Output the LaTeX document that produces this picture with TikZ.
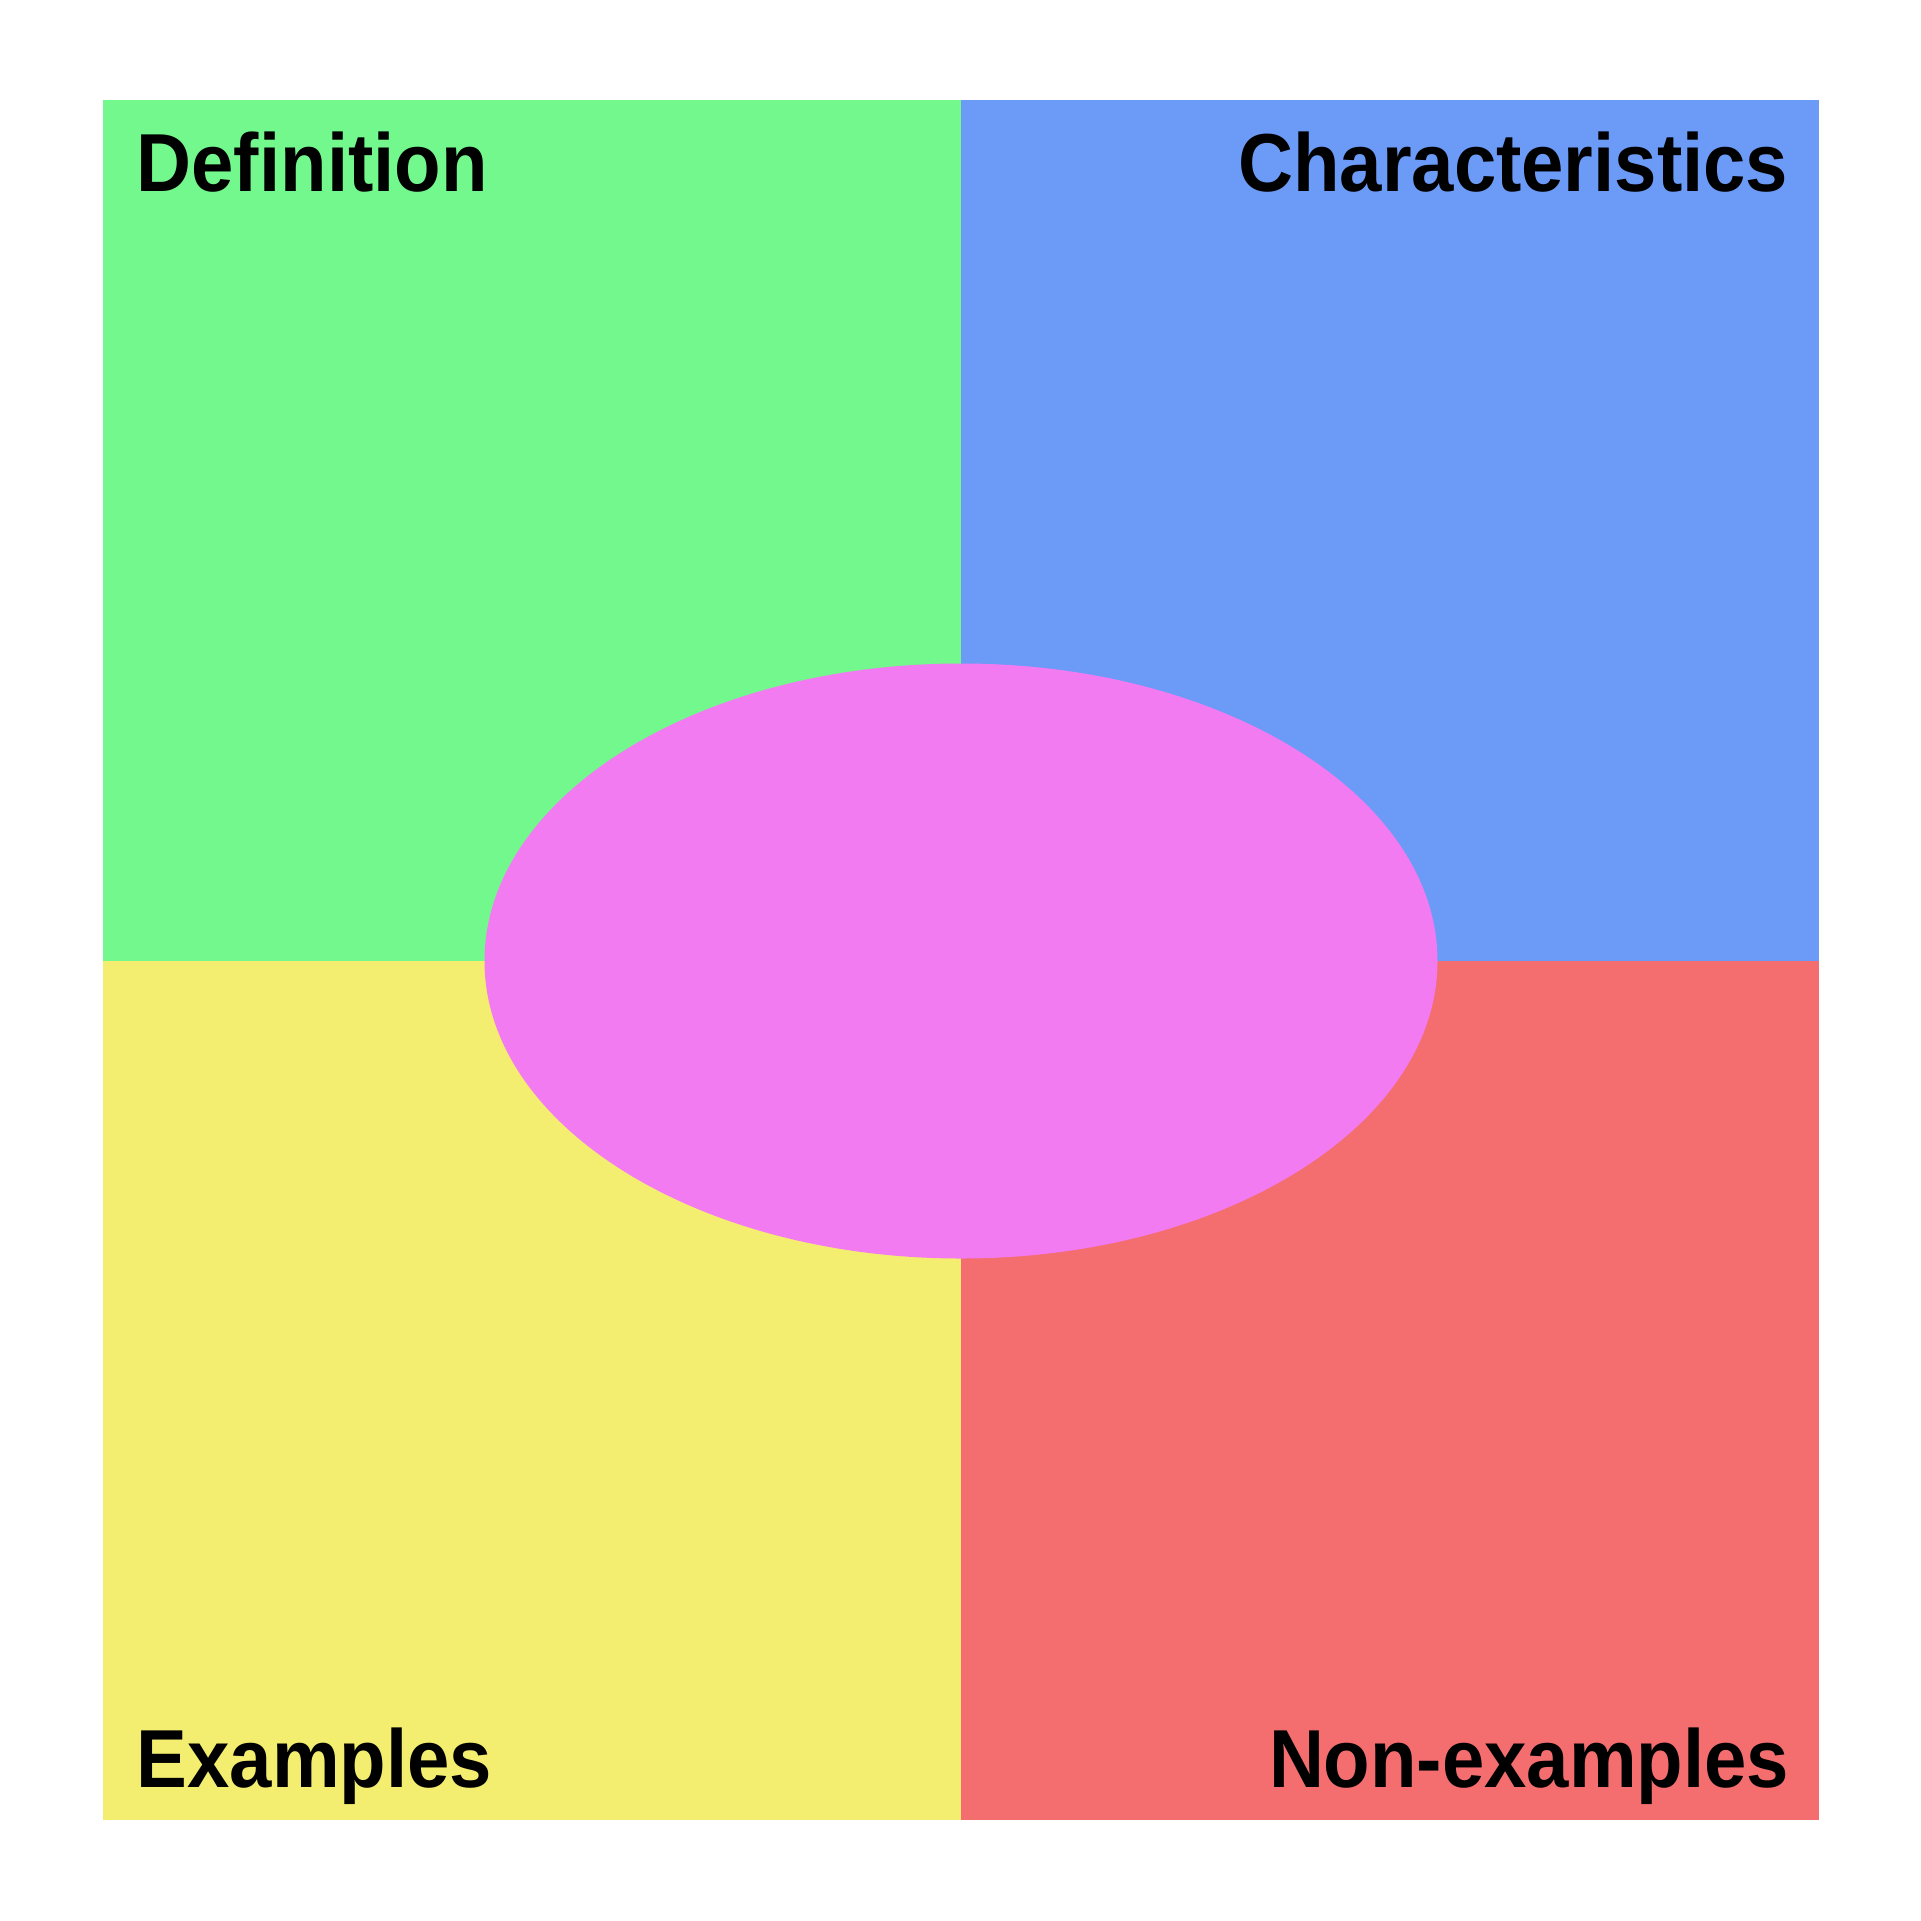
\documentclass[tikz,border=0pt]{standalone}
\usepackage{fontspec}
\newfontfamily\headfont{Liberation Sans}[FakeStretch=0.925]
\definecolor{defgreen}{RGB}{114,248,140}
\definecolor{charblue}{RGB}{108,154,247}
\definecolor{exyellow}{RGB}{244,238,112}
\definecolor{nonred}{RGB}{244,110,112}
\definecolor{corepink}{RGB}{242,123,242}
\tikzset{
  heading/.style={inner sep=0pt, font=\headfont\bfseries\fontsize{23.4}{28}\selectfont}
}
\begin{document}
\begin{tikzpicture}[x=0.01cm,y=-0.01cm]
      \useasboundingbox (0,0) rectangle (1921,1921);
      \fill[defgreen] (103,100) rectangle (961,961);
      \fill[charblue] (961,100) rectangle (1819,961);
      \fill[exyellow] (103,961) rectangle (961,1820);
      \fill[nonred] (961,961) rectangle (1819,1820);
      \fill[corepink] (961,961) ellipse [x radius=476.5, y radius=297.5];
      \node[heading, anchor=base west] (def) at (136,191) {Definition};
      \node[heading, anchor=base east] (char) at (1789,191) {Characteristics};
      \node[heading, anchor=base west] (ex) at (136,1787) {Examples};
      \node[heading, anchor=base east] (nonex) at (1790,1787) {Non-examples};
    \end{tikzpicture}
\end{document}
